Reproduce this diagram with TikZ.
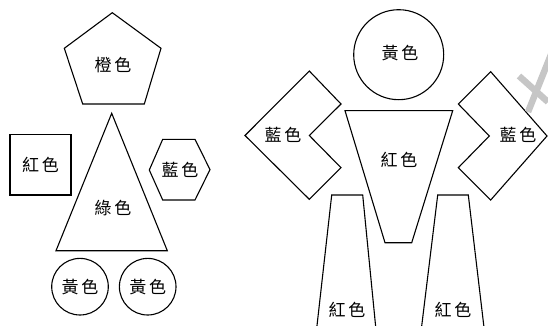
\documentclass[tikz,border=0pt]{standalone}
\usepackage{fontspec}
\newfontfamily\cjk{Noto Sans CJK TC}
\begin{document}
\begin{tikzpicture}[x=1pt,y=-1pt,
  shp/.style={draw=black,line width=1.1pt,line join=miter},
  lbl/.style={font=\cjk\fontsize{17}{17}\selectfont,inner sep=0pt}]
\useasboundingbox (0,0) rectangle (548,326);
\begin{scope}
\clip (0,0) rectangle (548,326);
% left figure
\draw[shp] (112.3,12.7) -- (161,48.3) -- (144.3,104) -- (82.7,104) -- (64.3,48.3) -- cycle;
\node[lbl] (orange) at (113,65) {橙\,色};
\draw[shp] (111.7,113.3) -- (167.3,250.7) -- (56,250.7) -- cycle;
\node[lbl] (green) at (113,208) {綠\,色};
\draw[shp] (10,134.3) rectangle (71,195);
\node[lbl] (redsq) at (40.5,165) {紅\,色};
\draw[shp] (149.3,170) -- (162.7,139.3) -- (195,139.3) -- (210,169.6) -- (195,200) -- (162.7,200) -- cycle;
\node[lbl] (bluehex) at (180,170) {藍\,色};
\draw[shp] (80,286.7) circle (28.3);
\node[lbl] (yel1) at (80,287) {黃\,色};
\draw[shp] (147.7,286.7) circle (28.3);
\node[lbl] (yel2) at (147.7,287) {黃\,色};
% right figure
\draw[shp] (398.7,54.7) circle (45);
\node[lbl] (head) at (400,53) {黃\,色};
\draw[shp] (345,110.7) -- (452.7,110.7) -- (411.7,242.7) -- (385,242.7) -- cycle;
\node[lbl] (torso) at (399,160) {紅\,色};
\draw[shp] (309.3,71) -- (341,104) -- (309.3,135.5) -- (341,167.7) -- (309.3,199.3) -- (245,135.5) -- cycle;
\node[lbl] (larm) at (283,135) {藍\,色};
\draw[shp] (490.7,71.7) -- (458.3,104) -- (489.3,136) -- (458.3,167.7) -- (490.7,200) -- (547,136) -- cycle;
\node[lbl] (rarm) at (518,135) {藍\,色};
\draw[shp] (331.7,195) -- (362.7,195) -- (376,330) -- (316.5,330) -- cycle;
\node[lbl] (lleg) at (347,310) {紅\,色};
\draw[shp] (437.7,195) -- (468.3,195) -- (484.3,330) -- (421.2,330) -- cycle;
\node[lbl] (rleg) at (453,310) {紅\,色};
% watermark fragment
\draw[gray!45,line width=6.5pt] (519,76) -- (548,102);
\draw[gray!45,line width=6.5pt] (552,52) -- (528,112);
\end{scope}
\end{tikzpicture}
\end{document}
